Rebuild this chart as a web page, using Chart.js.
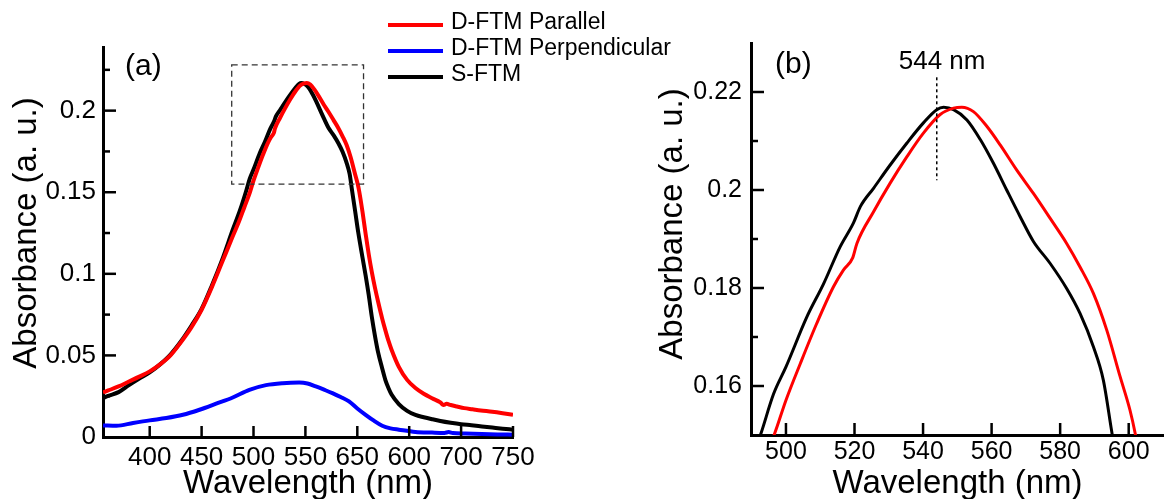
<!DOCTYPE html>
<html>
<head>
<meta charset="utf-8">
<title>Absorbance spectra</title>
<script src="https://cdn.jsdelivr.net/npm/chart.js@4.4.1/dist/chart.umd.min.js"></script>
<style>
  html, body { margin: 0; padding: 0; background: #fff; }
  #wrap { position: relative; width: 1164px; height: 499px; overflow: hidden; }
  #chartA { position: absolute; left: 0; top: 0; width: 700px; height: 499px; }
  #chartB { position: absolute; left: 650px; top: 0; width: 514px; height: 499px; }
</style>
</head>
<body>
<div id="wrap">
  <canvas id="chartA" width="700" height="499"></canvas>
  <canvas id="chartB" width="514" height="499"></canvas>
</div>
<script>
// series (wavelength in nm, absorbance in a.u.)
const seriesLabels = ['D-FTM Parallel', 'D-FTM Perpendicular', 'S-FTM'];
const seriesColors = ['#ff0000', '#0000ff', '#000000'];

const parallelWl = [355, 360, 370, 380, 390, 400, 410, 420, 430, 440, 450, 460, 470, 480, 486, 491, 496.7, 500, 504.2, 509,
  513.9, 516.8, 519.5, 520.7, 525.6, 530.4, 535.3, 540.1, 545, 548.9, 551.3, 554.7, 558.6, 562.5, 567.3, 572.2, 577.1, 581.9, 585.8, 589.7,
  593.6, 597.5, 600.4, 601.9, 605, 608, 611, 614, 617, 620, 624, 627, 630, 633, 640, 648, 656, 664, 672, 680,
  683, 686, 690, 696, 703, 711, 719, 730, 740, 750];
const parallelAbs = [0.0273, 0.0285, 0.0310, 0.0340, 0.0370, 0.0402, 0.0445, 0.0500, 0.0580, 0.0670, 0.0780, 0.0920, 0.1075, 0.1230, 0.1320, 0.1405, 0.1503, 0.1571, 0.1646, 0.1728,
  0.1803, 0.1837, 0.1862, 0.1891, 0.1956, 0.2014, 0.2068, 0.2116, 0.2154, 0.2167, 0.2169, 0.2160, 0.2130, 0.2092, 0.2041, 0.1993, 0.1942, 0.1891, 0.1843, 0.1789,
  0.1714, 0.1619, 0.1550, 0.1503, 0.1380, 0.1245, 0.1120, 0.1010, 0.0915, 0.0830, 0.0725, 0.0655, 0.0590, 0.0535, 0.0430, 0.0350, 0.0300, 0.0265, 0.0238, 0.0212,
  0.0196, 0.0203, 0.0196, 0.0187, 0.0177, 0.0170, 0.0163, 0.0155, 0.0146, 0.0136];

const perpWl = [355, 368, 384, 400, 416, 432, 448, 464, 480, 496, 512, 528, 544, 552, 560, 568, 576, 584, 592, 600,
  608, 616, 624, 632, 640, 656, 672, 684, 688, 692, 704, 720, 735, 750];
const perpAbs = [0.0071, 0.0069, 0.0086, 0.0102, 0.0116, 0.0136, 0.0167, 0.0204, 0.0242, 0.0289, 0.0318, 0.0330, 0.0334, 0.0328, 0.0310, 0.0290, 0.0269, 0.0245, 0.0218, 0.0175,
  0.0136, 0.0100, 0.0069, 0.0053, 0.0045, 0.0031, 0.0027, 0.0025, 0.0030, 0.0024, 0.0021, 0.0019, 0.0016, 0.0014];

const singleWl = [355, 360, 370, 380, 390, 400, 410, 420, 430, 440, 450, 460, 470, 480, 487, 492.7, 496.4, 500, 506.1, 511,
  515.8, 519.7, 521.7, 525.6, 530.4, 535.3, 540.1, 544, 546, 548.9, 552.8, 556.7, 560.5, 564.4, 568.3, 572.2, 577.1, 581.9, 585.8, 589.7,
  592.6, 595, 598, 601, 605, 608, 611, 614, 617, 620, 624, 627, 630, 633, 640, 648, 656, 664, 672, 680,
  690, 700, 710, 720, 730, 740, 750];
const singleAbs = [0.0239, 0.0252, 0.0275, 0.0318, 0.0358, 0.0396, 0.0445, 0.0505, 0.0585, 0.0680, 0.0785, 0.0930, 0.1090, 0.1270, 0.1390, 0.1503, 0.1584, 0.1639, 0.1741, 0.1809,
  0.1884, 0.1933, 0.1966, 0.2004, 0.2051, 0.2096, 0.2137, 0.2164, 0.2169, 0.2164, 0.2143, 0.2103, 0.2055, 0.2000, 0.1946, 0.1895, 0.1850, 0.1799, 0.1748, 0.1680,
  0.1612, 0.1509, 0.1380, 0.1250, 0.1100, 0.0990, 0.0870, 0.0735, 0.0620, 0.0520, 0.0420, 0.0350, 0.0300, 0.0260, 0.0202, 0.0160, 0.0135, 0.0121, 0.0109, 0.0098,
  0.0087, 0.0078, 0.0072, 0.0065, 0.0058, 0.0051, 0.0045];

// axis ticks, panel (a): labels kept as printed in the figure
const xTicksA = [400, 450, 500, 550, 600, 650, 700, 750];
const xTickLabelsA = ['400', '450', '500', '550', '650', '600', '700', '750'];
const yTicksA = [0, 0.05, 0.1, 0.15, 0.2];
const yTickLabelsA = ['0', '0.05', '0.1', '0.15', '0.2'];
const yMinorA = [0.025, 0.075, 0.125, 0.175, 0.225];

// axis ticks, panel (b)
const xTicksB = [500, 520, 540, 560, 580, 600];
const xTickLabelsB = ['500', '520', '540', '560', '580', '600'];
const yTicksB = [0.16, 0.18, 0.2, 0.22];
const yTickLabelsB = ['0.16', '0.18', '0.2', '0.22'];
const yMinorB = [0.17, 0.19, 0.21];

// zoomed region marked in (a), peak marker in (b)
const zoomBoxX = [479, 606];
const zoomBoxY = [0.155, 0.228];
const peakWl = 544;
const peakMarkY = [0.202, 0.223];
const peakLabel = '544 nm';
const xTitle = 'Wavelength (nm)';
const yTitle = 'Absorbance (a. u.)';

(function(){
  'use strict';

  const FONT = '"Liberation Sans", Arial, sans-serif';

  function toPoints(xs, ys){
    return xs.map(function(x, i){ return { x: x, y: ys[i] }; });
  }

  function buildDatasets(lineWidth){
    const xs = [parallelWl, perpWl, singleWl];
    const ys = [parallelAbs, perpAbs, singleAbs];
    return seriesLabels.map(function(label, i){
      return {
        label: label,
        data: toPoints(xs[i], ys[i]),
        borderColor: seriesColors[i],
        backgroundColor: seriesColors[i],
        borderWidth: lineWidth,
        pointRadius: 0,
        cubicInterpolationMode: 'monotone',
        clip: 0
      };
    });
  }

  function line(ctx, x0, y0, x1, y1){
    ctx.beginPath();
    ctx.moveTo(x0, y0);
    ctx.lineTo(x1, y1);
    ctx.stroke();
  }

  // tick marks pointing into the plot
  function drawInwardTicks(chart, xVals, yVals, yMinor, xLen){
    const ctx = chart.ctx, area = chart.chartArea;
    const sx = chart.scales.x, sy = chart.scales.y;
    ctx.strokeStyle = '#000';
    ctx.lineWidth = 2.5;
    ctx.setLineDash([]);
    xVals.forEach(function(v){
      const px = sx.getPixelForValue(v);
      line(ctx, px, area.bottom, px, area.bottom - xLen);
    });
    yVals.forEach(function(v){
      const py = sy.getPixelForValue(v);
      if (Math.abs(py - area.bottom) < 2) return;
      line(ctx, area.left, py, area.left + 13, py);
    });
    yMinor.forEach(function(v){
      const py = sy.getPixelForValue(v);
      line(ctx, area.left, py, area.left + 7, py);
    });
  }

  // vertical axis title, placed where the figure has it
  function drawYTitle(ctx, x, y){
    ctx.save();
    ctx.translate(x, y);
    ctx.rotate(-Math.PI / 2);
    ctx.fillStyle = '#000';
    ctx.font = '33px ' + FONT;
    ctx.textAlign = 'center';
    ctx.textBaseline = 'middle';
    ctx.fillText(yTitle, 0, 0);
    ctx.restore();
  }

  function axisOptions(opts){
    return {
      type: 'linear',
      min: opts.min,
      max: opts.max,
      grid: { display: false, drawTicks: false },
      border: { display: true, color: '#000', width: 3 },
      afterBuildTicks: function(s){ s.ticks = opts.ticks.map(function(v){ return { value: v }; }); },
      afterFit: opts.fit,
      ticks: {
        color: '#000',
        font: { family: FONT, size: opts.tickSize },
        padding: opts.tickPad,
        autoSkip: false,
        maxRotation: 0,
        callback: function(value, index){ return opts.labels[index]; }
      },
      title: {
        display: !!opts.title,
        text: opts.title || '',
        color: '#000',
        font: { family: FONT, size: 33, lineHeight: 0.9 },
        padding: { top: 0, bottom: 0 }
      }
    };
  }

  const panelA = {
    id: 'panelA',
    afterDraw: function(chart){
      const ctx = chart.ctx;
      const sx = chart.scales.x, sy = chart.scales.y;
      ctx.save();
      drawInwardTicks(chart, xTicksA, yTicksA, yMinorA, 11);

      // dashed box around the zoomed region
      ctx.strokeStyle = '#333';
      ctx.lineWidth = 1.3;
      ctx.setLineDash([6, 4]);
      const bx0 = sx.getPixelForValue(zoomBoxX[0]), bx1 = sx.getPixelForValue(zoomBoxX[1]);
      const by0 = sy.getPixelForValue(zoomBoxY[0]), by1 = sy.getPixelForValue(zoomBoxY[1]);
      ctx.strokeRect(bx0, by1, bx1 - bx0, by0 - by1);
      ctx.setLineDash([]);

      ctx.fillStyle = '#000';
      ctx.font = '30px ' + FONT;
      ctx.textAlign = 'left';
      ctx.textBaseline = 'alphabetic';
      ctx.fillText('(a)', 125, 75);

      // legend
      ctx.font = '23px ' + FONT;
      ctx.textBaseline = 'middle';
      chart.data.datasets.forEach(function(ds, i){
        const ly = 25 + i * 26;
        ctx.strokeStyle = ds.borderColor;
        ctx.lineWidth = 4;
        line(ctx, 388, ly, 443, ly);
        ctx.fillStyle = '#000';
        ctx.fillText(ds.label, 451, ly - 2);
      });
      ctx.restore();
      drawYTitle(ctx, 27, 233);
    }
  };

  const panelB = {
    id: 'panelB',
    afterDraw: function(chart){
      const ctx = chart.ctx;
      const sx = chart.scales.x, sy = chart.scales.y;
      ctx.save();
      drawInwardTicks(chart, xTicksB, yTicksB, yMinorB, 12);

      // dotted marker at the peak
      const px = sx.getPixelForValue(peakWl);
      ctx.strokeStyle = '#000';
      ctx.lineWidth = 1.5;
      ctx.setLineDash([3, 3]);
      line(ctx, px, sy.getPixelForValue(peakMarkY[1]), px, sy.getPixelForValue(peakMarkY[0]));
      ctx.setLineDash([]);

      ctx.fillStyle = '#000';
      ctx.textAlign = 'left';
      ctx.textBaseline = 'alphabetic';
      ctx.font = '26px ' + FONT;
      ctx.fillText(peakLabel, px - 38, 69);
      ctx.font = '30px ' + FONT;
      ctx.fillText('(b)', 125, 73);
      ctx.restore();
      drawYTitle(ctx, 23, 224);
    }
  };

  function baseOptions(){
    return {
      responsive: false,
      animation: false,
      devicePixelRatio: 1,
      plugins: { legend: { display: false }, tooltip: { enabled: false } },
      elements: { line: { tension: 0 } }
    };
  }

  function initCharts(){
    try {
      if (typeof Chart === 'undefined') {
        console.warn('Chart.js is not loaded.');
        return;
      }

      // panel (a): full spectra
      const optsA = baseOptions();
      optsA.layout = { padding: { left: 0, top: 47, right: 187, bottom: 0 } };
      optsA.scales = {
        x: axisOptions({ min: 355, max: 750, ticks: xTicksA, labels: xTickLabelsA, tickSize: 26, tickPad: 5,
          title: xTitle, fit: function(s){ s.height = 62; } }),
        y: axisOptions({ min: 0, max: 0.239, ticks: yTicksA, labels: yTickLabelsA, tickSize: 26, tickPad: 7,
          title: null, fit: function(s){ s.width = 103; } })
      };
      new Chart(document.getElementById('chartA').getContext('2d'), {
        type: 'line',
        data: { datasets: buildDatasets(4) },
        options: optsA,
        plugins: [panelA]
      });

      // panel (b): zoom around the maximum
      const optsB = baseOptions();
      optsB.layout = { padding: { left: 0, top: 43, right: 0, bottom: 0 } };
      optsB.scales = {
        x: axisOptions({ min: 489.8, max: 610.3, ticks: xTicksB, labels: xTickLabelsB, tickSize: 25, tickPad: 2,
          title: xTitle, fit: function(s){ s.height = 64; } }),
        y: axisOptions({ min: 0.15, max: 0.23, ticks: yTicksB, labels: yTickLabelsB, tickSize: 25, tickPad: 9,
          title: null, fit: function(s){ s.width = 101; } })
      };
      new Chart(document.getElementById('chartB').getContext('2d'), {
        type: 'line',
        data: { datasets: buildDatasets(3) },
        options: optsB,
        plugins: [panelB]
      });
    } catch (err) {
      console.error('Error drawing charts:', err);
    }
  }

  if (document.readyState === 'loading') {
    document.addEventListener('DOMContentLoaded', initCharts);
  } else {
    initCharts();
  }
})();
</script>
</body>
</html>
